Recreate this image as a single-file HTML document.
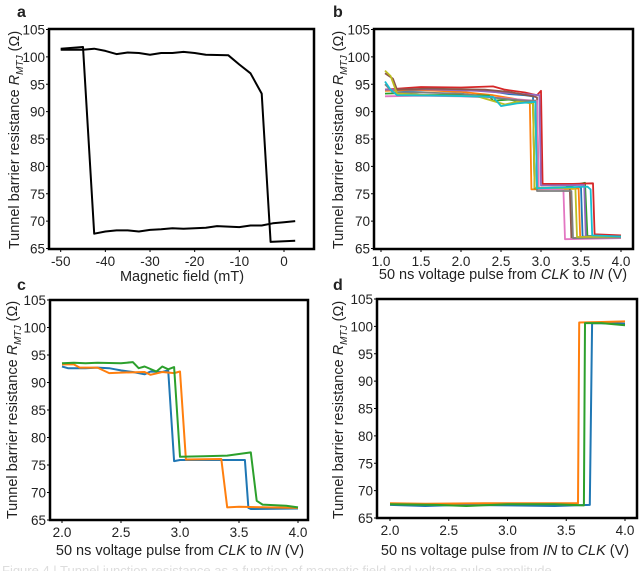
<!DOCTYPE html>
<html><head><meta charset="utf-8"><style>
body{margin:0;background:#fff;width:640px;height:571px;overflow:hidden;font-family:"Liberation Sans",Arial,sans-serif}
svg text{font-family:"Liberation Sans",Arial,sans-serif;fill:#222}
</style></head><body>
<svg id="fig" width="640" height="571" viewBox="0 0 640 571" xmlns="http://www.w3.org/2000/svg"></svg>
<script>
// ---- data ----
const aYTicks=[65,70,75,80,85,90,95,100,105];
const aXTicks=[-50,-40,-30,-20,-10,0];
const aLoopUpper=[[-50,101.3],[-45,101.3],[-42.5,101.5],[-40,101.1],[-37.5,100.5],[-35,100.8],[-32.5,100.7],[-30,100.4],[-27.5,100.7],[-25,100.7],[-22.5,100.9],[-20,100.7],[-17.5,100.4],[-12.5,100.3],[-10,98.6],[-7.5,97],[-5,93.3],[-3,66.2],[2.5,66.4]];
const aLoopLower=[[-50,101.5],[-45,101.8],[-42.5,67.7],[-40,68.1],[-37.5,68.3],[-35,68.3],[-32.5,68.1],[-30,68.4],[-27.5,68.5],[-25,68.7],[-22.5,68.6],[-20,68.7],[-17.5,68.8],[-15,69.1],[-12.5,69.0],[-10,68.9],[-7.5,69.2],[-5,69.2],[-2.5,69.6],[0,69.8],[2.5,70.0]];
const bXTicks=[1.0,1.5,2.0,2.5,3.0,3.5,4.0];
const cdXTicks=[2.0,2.5,3.0,3.5,4.0];
const colors=['#1f77b4','#ff7f0e','#2ca02c','#d62728','#9467bd','#8c564b','#e377c2','#7f7f7f','#bcbd22','#17becf'];
const bSeries=[
 [[1.05,94.0],[1.3,93.8],[1.8,94.0],[2.3,93.9],[2.6,93.2],[2.8,93.0],[2.9,92.8],[2.92,76.0],[3.3,76.0],[3.5,76.2],[3.52,67.2],[4.0,67.1]],
 [[1.05,93.8],[1.4,94.0],[2.0,93.6],[2.4,93.0],[2.6,92.5],[2.8,92.0],[2.86,92.0],[2.88,75.8],[3.4,75.9],[3.47,76.0],[3.49,67.0],[4.0,67.0]],
 [[1.05,93.3],[1.3,93.4],[1.5,93.0],[2.0,93.1],[2.35,92.9],[2.4,92.0],[2.6,92.2],[2.85,91.6],[2.9,91.6],[2.92,76.0],[3.3,76.2],[3.55,77.0],[3.58,67.3],[4.0,67.2]],
 [[1.05,94.0],[1.3,94.3],[1.5,94.5],[2.0,94.4],[2.4,94.6],[2.55,94.0],[2.8,93.5],[2.95,93.0],[3.0,93.8],[3.02,76.8],[3.4,76.8],[3.65,76.9],[3.67,67.6],[4.0,67.4]],
 [[1.05,94.0],[1.5,94.1],[2.2,93.8],[2.7,93.3],[2.98,93.0],[3.0,76.5],[3.5,76.6],[3.54,76.6],[3.56,67.2],[4.0,67.2]],
 [[1.05,97.0],[1.15,96.0],[1.2,94.0],[1.6,94.2],[2.3,94.0],[2.6,93.6],[2.9,92.8],[2.95,92.6],[2.97,76.0],[3.36,76.0],[3.38,66.9],[4.0,67.0]],
 [[1.05,92.8],[1.5,92.9],[2.0,92.8],[2.5,92.5],[2.9,92.0],[2.95,92.0],[2.97,75.9],[3.28,75.8],[3.3,66.7],[4.0,66.9]],
 [[1.05,95.0],[1.15,93.5],[1.5,93.5],[2.0,93.3],[2.5,92.4],[2.8,92.0],[2.93,92.0],[2.95,75.5],[3.38,75.5],[3.4,66.9],[4.0,67.0]],
 [[1.05,97.5],[1.12,96.5],[1.2,93.3],[1.6,93.0],[2.2,92.8],[2.55,91.3],[2.7,91.8],[2.9,91.5],[2.92,76.1],[3.43,76.0],[3.45,67.1],[4.0,67.2]],
 [[1.05,95.5],[1.12,94.0],[1.2,93.0],[1.8,92.9],[2.4,92.7],[2.5,91.0],[2.7,91.5],[2.93,91.8],[2.95,76.0],[3.58,76.3],[3.62,75.8],[3.64,67.4],[4.0,67.2]]
];
const cBlue=[[2.0,92.9],[2.05,92.6],[2.2,92.6],[2.3,92.7],[2.4,92.6],[2.45,92.4],[2.5,92.2],[2.6,91.9],[2.7,91.5],[2.75,92.0],[2.85,91.9],[2.9,92.2],[2.95,75.7],[3.0,75.9],[3.5,75.9],[3.55,75.9],[3.58,67.2],[3.6,67.0],[4.0,67.1]];
const cOrange=[[2.0,93.3],[2.1,93.3],[2.15,92.7],[2.3,92.7],[2.4,91.7],[2.5,91.8],[2.7,91.9],[2.75,91.4],[2.85,91.9],[2.95,91.7],[3.0,92.0],[3.05,76.0],[3.35,76.1],[3.4,67.3],[3.5,67.4],[4.0,67.2]];
const cGreen=[[2.0,93.5],[2.1,93.6],[2.2,93.5],[2.3,93.6],[2.5,93.5],[2.6,93.7],[2.65,92.6],[2.7,92.9],[2.8,92.0],[2.85,92.9],[2.9,92.4],[2.95,92.8],[3.0,76.5],[3.2,76.6],[3.4,76.7],[3.5,77.0],[3.6,77.3],[3.65,68.5],[3.7,67.8],[3.9,67.6],[4.0,67.3]];
const dBlue=[[2.0,67.4],[2.3,67.2],[2.6,67.4],[3.0,67.3],[3.4,67.2],[3.7,67.4],[3.72,100.6],[4.0,100.5]];
const dOrange=[[2.0,67.7],[2.3,67.6],[2.8,67.7],[3.2,67.7],[3.6,67.7],[3.61,100.7],[3.8,100.8],[4.0,100.9]];
const dGreen=[[2.0,67.5],[2.4,67.4],[2.65,67.2],[3.0,67.5],[3.4,67.5],[3.65,67.3],[3.66,100.6],[3.8,100.6],[4.0,100.2]];

const NS='http://www.w3.org/2000/svg';
const svg=document.getElementById('fig');
function mk(tag,attrs,parent){const e=document.createElementNS(NS,tag);for(const k in attrs)e.setAttribute(k,attrs[k]);(parent||svg).appendChild(e);return e;}
function panel(id,box,xr,px,yr,py,xticks,xfmt){
 const g=mk('g',{});
 
 
 const sx=v=>px[0]+(v-xr[0])/(xr[1]-xr[0])*(px[1]-px[0]);
 const sy=v=>py[0]+(v-yr[0])/(yr[1]-yr[0])*(py[1]-py[0]);
 aYTicks.forEach(t=>{const tx=mk('text',{x:box[0]-4,y:sy(t)+5,'text-anchor':'end','font-size':13.5},g);tx.textContent=t;
  
  mk('line',{x1:box[0]-3,x2:box[0],y1:sy(t),y2:sy(t),stroke:'#000','stroke-width':1},g);});
 xticks.forEach(t=>{const tx=mk('text',{x:sx(t),y:box[3]+17,'text-anchor':'middle','font-size':13.5},g);tx.textContent=xfmt(t);
  
  mk('line',{x1:sx(t),x2:sx(t),y1:box[3],y2:box[3]+3,stroke:'#000','stroke-width':1},g);});
 return {g,sx,sy};
}
function line(p,pts,color,w,name){const d=pts.map((q,i)=>(i?'L':'M')+p.sx(q[0]).toFixed(1)+','+p.sy(q[1]).toFixed(1)).join('');
 const e=mk('path',{d,fill:'none',stroke:color,'stroke-width':w,'stroke-linejoin':'round'},p.g);
 }
function frame(p,box){const r=mk('rect',{x:box[0],y:box[1],width:box[2]-box[0],height:box[3]-box[1],fill:'none',stroke:'#000','stroke-width':2.5},p.g);
 }
function ylabel(x,cy){const t=mk('text',{x:0,y:0,'font-size':14.5,'text-anchor':'middle',transform:`translate(${x},${cy}) rotate(-90)`});
 t.innerHTML='Tunnel barrier resistance <tspan font-style="italic">R</tspan><tspan font-style="italic" font-size="10" dy="4">MTJ</tspan><tspan dy="-4"> (Ω)</tspan>';
 }
function xlabel(x,y,html){const t=mk('text',{x,y,'font-size':14.5,'text-anchor':'middle'});t.innerHTML=html;
 }
function letter(x,y,s){const t=mk('text',{x,y,'font-size':16,'font-weight':'bold'});t.textContent=s;
 }
const f1=v=>v.toFixed(1), f0=v=>String(v);

// a
const boxA=[49,29,314,249];
const pa=panel('a',boxA,[-50,0],[60.7,284],[105,65],[29.5,248.5],aXTicks,f0);
line(pa,aLoopUpper,'#000',2,'upper-branch');
line(pa,aLoopLower,'#000',2,'lower-branch');
frame(pa,boxA);ylabel(19,140);xlabel(182,281,'Magnetic field (mT)');letter(17,17,'a');
// b
const boxB=[374,29,633,249];
const pb=panel('b',boxB,[1,4],[381,621],[105,65],[29.5,248.5],bXTicks,f1);
bSeries.forEach((s,i)=>line(pb,s,colors[i],1.8,'series-b-'+i));
frame(pb,boxB);ylabel(343,140);xlabel(503,279,'50 ns voltage pulse from <tspan font-style="italic">CLK</tspan> to <tspan font-style="italic">IN</tspan> (V)');letter(333,17,'b');
// c
const boxC=[50,300,308,520];
const pc=panel('c',boxC,[2,4],[62,298],[105,65],[300,520],cdXTicks,f1);
line(pc,cBlue,colors[0],2,'series-c-blue');line(pc,cOrange,colors[1],2,'series-c-orange');line(pc,cGreen,colors[2],2,'series-c-green');
frame(pc,boxC);ylabel(17,410);xlabel(180,555,'50 ns voltage pulse from <tspan font-style="italic">CLK</tspan> to <tspan font-style="italic">IN</tspan> (V)');letter(17,290,'c');
// d
const boxD=[377,299,637,518];
const pd=panel('d',boxD,[2,4],[390,625],[105,65],[299,518],cdXTicks,f1);
line(pd,dBlue,colors[0],2,'series-d-blue');line(pd,dOrange,colors[1],2,'series-d-orange');line(pd,dGreen,colors[2],2,'series-d-green');
frame(pd,boxD);ylabel(343,410);xlabel(505,555,'50 ns voltage pulse from <tspan font-style="italic">IN</tspan> to <tspan font-style="italic">CLK</tspan> (V)');letter(333,290,'d');
const cap=mk('text',{x:2,y:575,'font-size':13,fill:'#ddd',style:'fill:#ddd'});cap.textContent='Figure 4 | Tunnel junction resistance as a function of magnetic field and voltage pulse amplitude';

</script>
</body></html>
